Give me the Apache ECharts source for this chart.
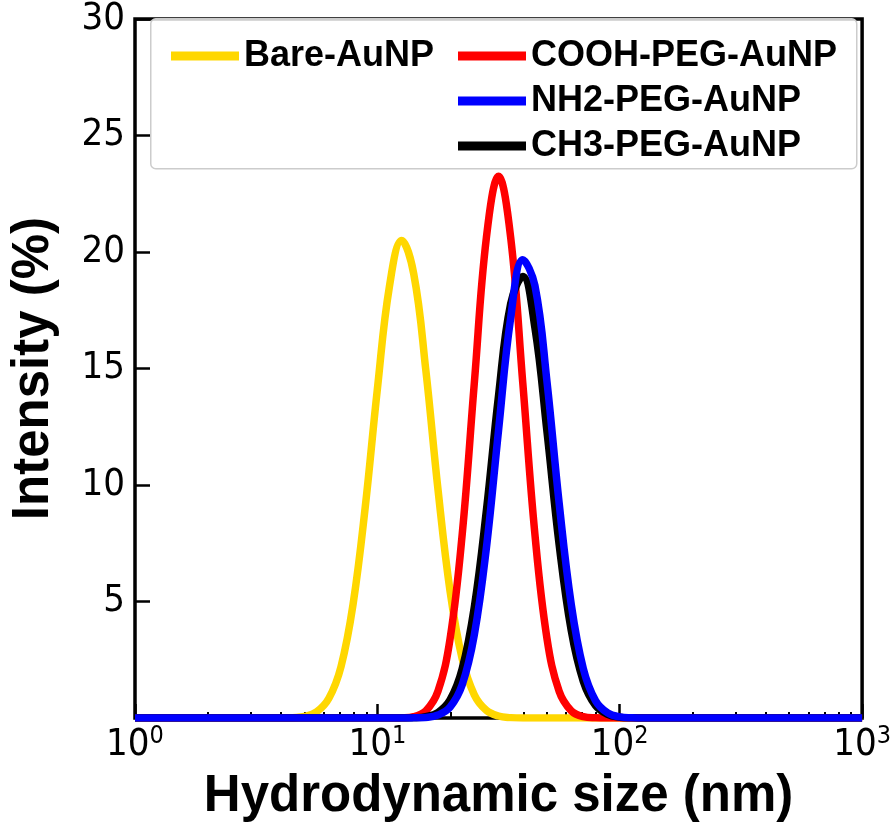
<!DOCTYPE html>
<html>
<head>
<meta charset="utf-8">
<script src="https://cdn.jsdelivr.net/npm/echarts@6/dist/echarts.min.js"></script>
<style>
  html, body { margin: 0; padding: 0; background: #fff; }
  #chart { width: 894px; height: 827px; }
</style>
</head>
<body>
<div id="chart"></div>
<script>
// 粒径 (nm)，对数刻度取样
var sizes = [1, 3.16, 3.55, 3.98, 4.47, 5.01, 5.62, 6.31, 7.08, 7.94, 8.91, 10, 11.22, 12.59, 14.13, 15.85,
  17.78, 19.95, 22.39, 25.12, 28.18, 31.62, 35.48, 39.81, 44.67, 50.12, 56.23, 63.1, 70.79, 79.43, 89.13,
  100, 112.2, 125.9, 141.3, 158.5, 316.2, 1000];

// 各样品强度 (%)
var bare = [0, 0, 0, 0, 0.02, 0.07, 0.27, 0.85, 2.21, 4.89, 9.05, 14.12, 18.54, 20.49, 19.06, 14.92,
  9.83, 5.45, 2.54, 1.00, 0.33, 0.09, 0.02, 0, 0, 0, 0, 0, 0, 0, 0,
  0, 0, 0, 0, 0, 0, 0];
var cooh = [0, 0, 0, 0, 0, 0, 0, 0, 0, 0, 0, 0, 0, 0.01, 0.06, 0.31,
  1.15, 3.40, 7.89, 14.38, 20.63, 23.25, 20.63, 14.38, 7.89, 3.40, 1.15, 0.31, 0.06, 0.01, 0,
  0, 0, 0, 0, 0, 0, 0];
var nh2 = [0, 0, 0, 0, 0, 0, 0, 0, 0, 0, 0, 0, 0, 0, 0.01, 0.03,
  0.13, 0.47, 1.43, 3.57, 7.31, 12.35, 17.17, 19.67, 18.56, 14.42, 9.23, 4.87, 2.11, 0.75, 0.22,
  0.05, 0.01, 0, 0, 0, 0, 0];
var ch3 = [0, 0, 0, 0, 0, 0, 0, 0, 0, 0, 0, 0, 0, 0, 0.01, 0.06,
  0.24, 0.78, 2.12, 4.77, 8.92, 13.84, 17.78, 18.95, 16.75, 12.27, 7.45, 3.75, 1.57, 0.54, 0.16,
  0.04, 0.01, 0, 0, 0, 0, 0];

var names = ['Bare-AuNP', 'COOH-PEG-AuNP', 'NH2-PEG-AuNP', 'CH3-PEG-AuNP'];
var colors = ['#FFD700', '#FF0000', '#0000FF', '#000000'];

// x 轴次刻度
var minorTicks = [2, 3, 4, 5, 6, 7, 8, 9, 20, 30, 40, 50, 60, 70, 80, 90, 200, 300, 400, 500, 600, 700, 800, 900];

function pairs(ys) {
  return sizes.map(function (s, i) { return [s, ys[i]]; });
}

function line(name, ys, color, z) {
  return {
    name: name,
    type: 'line',
    data: pairs(ys),
    smooth: 0.4,
    showSymbol: false,
    z: z,
    lineStyle: { color: color, width: 7.5 },
    itemStyle: { color: color }
  };
}

var legendText = {
  fontFamily: 'Liberation Sans, Arial, sans-serif',
  fontWeight: 'bold',
  fontSize: 36,
  lineHeight: 40,
  color: '#000'
};

var tickFont = 'DejaVu Sans Condensed, DejaVu Sans';

var option = {
  backgroundColor: '#fff',
  animation: false,
  grid: {
    left: 130, right: 30, top: 14, bottom: 108,
    show: true, borderColor: '#000', borderWidth: 3.5, backgroundColor: 'transparent'
  },
  legend: [
    {
      data: [names[0]], left: 166, top: 31, icon: 'rect', itemWidth: 68, itemHeight: 9,
      textStyle: legendText, z: 4
    },
    {
      data: [names[1], names[2], names[3]], orient: 'vertical', left: 453, top: 31, itemGap: 5,
      icon: 'rect', itemWidth: 68, itemHeight: 9, textStyle: legendText, z: 4
    }
  ],
  graphic: [{
    type: 'rect', left: 150, top: 18, z: 3,
    shape: { width: 706, height: 150, r: 5 },
    style: { fill: 'rgba(255,255,255,0.8)', stroke: '#cccccc', lineWidth: 1.5 }
  }],
  xAxis: [
    {
      type: 'log', logBase: 10, min: 1, max: 1000,
      name: 'Hydrodynamic size (nm)', nameLocation: 'middle', nameGap: 36,
      nameTextStyle: { fontFamily: 'Liberation Sans, Arial, sans-serif', fontWeight: 'bold', fontSize: 51, color: '#000' },
      axisLine: { show: false },
      axisTick: { inside: true, length: 14, lineStyle: { color: '#000', width: 2.5 } },
      splitLine: { show: false },
      axisLabel: {
        margin: 6, color: '#000', fontFamily: tickFont, fontSize: 38, lineHeight: 42,
        formatter: function (v) { return '10{s|' + Math.round(Math.log10(v)) + '}'; },
        rich: { s: { fontFamily: tickFont, fontSize: 25, lineHeight: 25, verticalAlign: 'top', color: '#000' } }
      }
    },
    {
      type: 'log', logBase: 10, min: 1, max: 1000, position: 'bottom',
      axisLine: { show: false },
      axisLabel: { show: false },
      splitLine: { show: false },
      axisTick: { inside: true, length: 6, customValues: minorTicks, lineStyle: { color: '#000', width: 2 } }
    }
  ],
  yAxis: {
    type: 'value', min: 0, max: 30, interval: 5,
    name: 'Intensity (%)', nameLocation: 'middle', nameGap: 76,
    nameTextStyle: { fontFamily: 'Liberation Sans, Arial, sans-serif', fontWeight: 'bold', fontSize: 51, color: '#000' },
    axisLine: { show: false },
    axisTick: { inside: true, length: 15, lineStyle: { color: '#000', width: 2.5 } },
    splitLine: { show: false },
    axisLabel: {
      margin: 10, color: '#000', fontFamily: tickFont, fontSize: 38,
      formatter: function (v) { return v === 0 ? '' : v; }
    }
  },
  series: [
    line(names[0], bare, colors[0], 2),
    line(names[1], cooh, colors[1], 3),
    line(names[3], ch3, colors[3], 4),
    line(names[2], nh2, colors[2], 5)
  ]
};

var chart = echarts.init(document.getElementById('chart'), null, { renderer: 'canvas' });
chart.setOption(option);
</script>
</body>
</html>
